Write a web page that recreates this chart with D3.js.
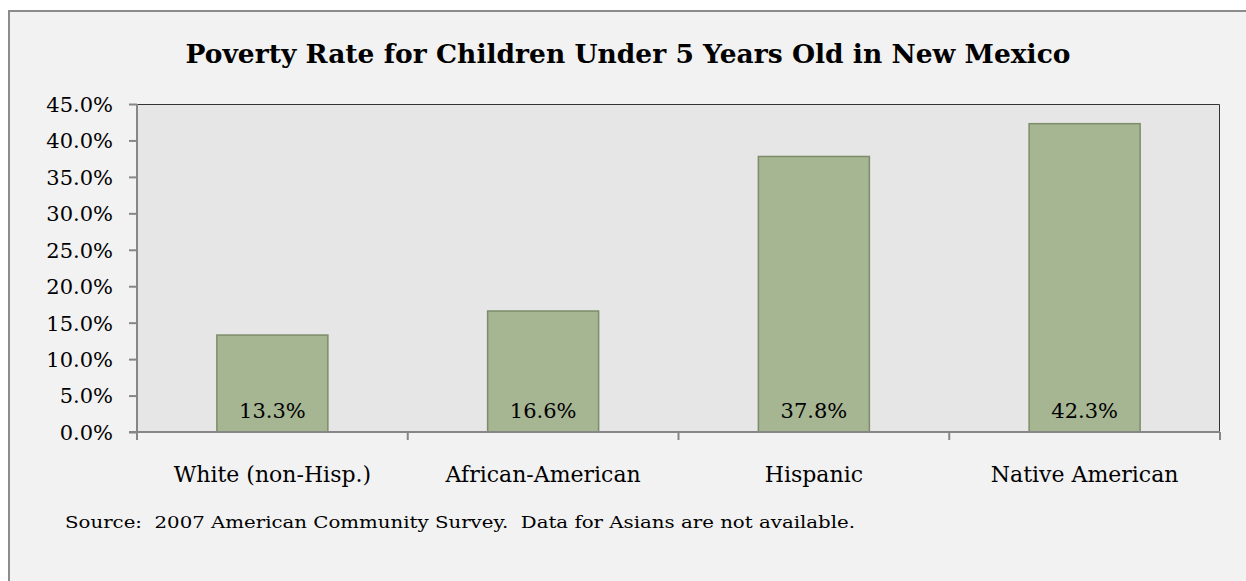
<!DOCTYPE html>
<html>
<head>
<meta charset="utf-8">
<script src="https://cdn.jsdelivr.net/npm/d3@7"></script>
<style>
  body { margin: 0; background: #ffffff; }
  svg text { font-family: "DejaVu Serif", "Liberation Serif", serif; fill: #000; white-space: pre; }
</style>
</head>
<body>
<script>
// chart values
const categories = ["White (non-Hisp.)", "African-American", "Hispanic", "Native American"];
const rates = [13.3, 16.6, 37.8, 42.3];
const yTicks = [0, 5, 10, 15, 20, 25, 30, 35, 40, 45];
const title = "Poverty Rate for Children Under 5 Years Old in New Mexico";
const source = "Source:  2007 American Community Survey.  Data for Asians are not available.";

const total_width = 1246, total_height = 581;
const margin = { top: 104, right: 26, bottom: 149, left: 137 };
const graph_width = 1220 - margin.left;
const graph_height = 432 - margin.top;

const svg = d3.select("body").append("svg")
    .attr("width", total_width)
    .attr("height", total_height);

// outer chart frame
svg.append("rect")
    .attr("x", 9).attr("y", 11)
    .attr("width", 1250).attr("height", 590)
    .attr("fill", "#f2f2f2")
    .attr("stroke", "#8c8c8c")
    .attr("stroke-width", 2);

svg.append("text")
    .attr("x", 628).attr("y", 63)
    .attr("text-anchor", "middle")
    .attr("font-size", 26)
    .attr("font-weight", "bold")
    .attr("textLength", 885)
    .attr("lengthAdjust", "spacingAndGlyphs")
    .text(title);

const g = svg.append("g")
    .attr("transform", "translate(" + margin.left + "," + margin.top + ")");

const x = d3.scaleBand()
    .domain(categories)
    .range([0, graph_width])
    .paddingInner(0.59)
    .paddingOuter(0.295);

const y = d3.scaleLinear()
    .domain([0, 45])
    .range([graph_height, 0]);

// plot area
g.append("rect")
    .attr("width", graph_width).attr("height", graph_height)
    .attr("fill", "#e6e6e6");
g.append("path")
    .attr("d", "M0,0.5H" + (graph_width - 0.5) + "V" + graph_height)
    .attr("fill", "none")
    .attr("stroke", "#333")
    .attr("stroke-width", 1);

// bars
g.selectAll(".bar")
    .data(rates)
    .enter().append("rect")
    .attr("class", "bar")
    .attr("x", (d, i) => x(categories[i]))
    .attr("width", x.bandwidth())
    .attr("y", d => y(d))
    .attr("height", d => graph_height - y(d))
    .attr("fill", "#a6b592")
    .attr("stroke", "#7d8c69")
    .attr("stroke-width", 1.5);

// value labels
g.selectAll(".val")
    .data(rates)
    .enter().append("text")
    .attr("class", "val")
    .attr("x", (d, i) => x(categories[i]) + x.bandwidth() / 2)
    .attr("y", graph_height - 14)
    .attr("text-anchor", "middle")
    .attr("font-size", 21)
    .text(d => d.toFixed(1) + "%");

// y axis
const yAxis = g.append("g")
    .call(d3.axisLeft(y).tickValues(yTicks).tickSize(8).tickPadding(16)
        .tickFormat(d => d.toFixed(1) + "%"));
yAxis.selectAll("line, path").attr("stroke", "#868686").attr("stroke-width", 2);
yAxis.select(".domain").attr("d", "M0," + (graph_height + 1) + "V0");
yAxis.selectAll("text").attr("font-size", 21).attr("font-family", null).attr("dy", "0.35em");

// x axis, ticks at category boundaries
const xAxis = g.append("g")
    .attr("transform", "translate(0," + graph_height + ")");
xAxis.append("path")
    .attr("d", "M-8,0H" + graph_width)
    .attr("stroke", "#868686").attr("stroke-width", 2);
const step = x.step();
xAxis.selectAll(".xtick")
    .data(d3.range(categories.length + 1))
    .enter().append("line")
    .attr("x1", i => i * step).attr("x2", i => i * step)
    .attr("y1", 0).attr("y2", 8)
    .attr("stroke", "#868686").attr("stroke-width", 2);
xAxis.selectAll(".xlab")
    .data(categories)
    .enter().append("text")
    .attr("x", d => x(d) + x.bandwidth() / 2)
    .attr("y", 50)
    .attr("text-anchor", "middle")
    .attr("font-size", 22)
    .text(d => d);

svg.append("text")
    .attr("x", 65).attr("y", 528)
    .attr("font-size", 17)
    .attr("textLength", 790)
    .attr("lengthAdjust", "spacingAndGlyphs")
    .text(source);
</script>
</body>
</html>
